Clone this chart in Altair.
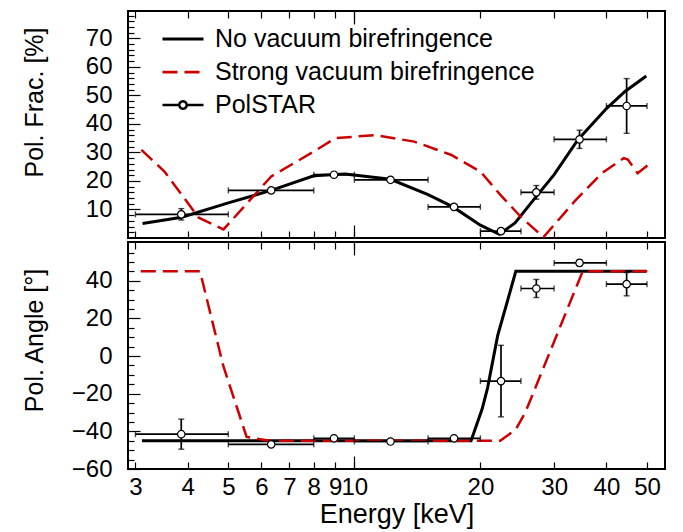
import altair as alt
import pandas as pd

# ------------------------------------------------------------------ data
series_names = ["No vacuum birefringence", "Strong vacuum birefringence", "PolSTAR"]
series_colors = ["black", "#cc0000", "black"]

# model curves : polarization fraction [%]
frac_none_E = [3.12, 3.87, 5.0, 6.33, 8.0, 9.5, 12.2, 15.0, 17.2, 20.0, 22.2, 24.2,
               27.0, 30.0, 34.2, 40.0, 44.3, 49.8]
frac_none_V = [5.1, 7.3, 12.3, 16.7, 21.8, 22.4, 20.6, 15.2, 10.9, 4.5, 1.3, 5.3,
               14.0, 22.2, 34.5, 45.4, 51.4, 56.8]
frac_strong_E = [3.1, 3.52, 4.25, 4.87, 6.33, 8.0, 9.0, 11.2, 13.9, 17.0, 20.0, 22.3,
                 25.1, 28.3, 33.6, 39.0, 44.0, 45.0, 47.5, 51.5]
frac_strong_V = [30.9, 23.3, 7.1, 3.0, 21.6, 30.3, 35.0, 36.1, 33.8, 29.2, 23.3, 15.2,
                 7.1, 0.3, 12.9, 22.7, 28.0, 27.5, 22.7, 26.8]

# model curves : polarization angle [deg]
angle_none_E = [3.11, 19.0, 20.2, 20.8, 22.0, 24.3, 49.8]
angle_none_V = [-45, -45, -28, -17, 11, 45, 45]
angle_strong_E = [3.09, 4.28, 4.86, 5.53, 6.29, 22.3, 24.3, 25.6, 35.1, 51.5]
angle_strong_V = [45, 45, -5, -43, -45, -45, -39, -30, 45, 45]

# PolSTAR simulated measurements
pol_E = [3.86, 6.33, 8.94, 12.2, 17.3, 22.4, 27.2, 34.5, 44.7]
pol_E_lo = [3, 5, 8, 10, 15, 20, 25, 30, 40]
pol_E_hi = [5, 8, 10, 15, 20, 25, 30, 40, 50]
pol_frac = [8.3, 16.7, 22.2, 20.4, 10.9, 2.4, 16.0, 34.6, 46.3]
pol_frac_err = [2.0, 0.8, 0.8, 0.8, 0.8, 0.8, 2.4, 3.2, 9.6]
pol_angle = [-41.5, -46.9, -43.7, -45.4, -43.7, -13.3, 35.9, 49.5, 38.2]
pol_angle_err = [8.0, 1.0, 1.0, 1.0, 1.0, 19.0, 4.8, 1.5, 6.2]

# axes
x_tick_vals = [3, 4, 5, 6, 7, 8, 9, 10, 20, 30, 40, 50]
x_long_tick = [10]
frac_major = [10, 20, 30, 40, 50, 60, 70]
frac_minor = [v for v in range(2, 80, 2) if v % 10 != 0]
angle_major = [-60, -40, -20, 0, 20, 40]
angle_minor = [v for v in range(-55, 61, 5) if v % 20 != 0]

# symbols for the legend (custom paths)
legend_shapes = [
    "M-1,0L1,0",
    "M-1,0L1,0",
    "M-1,0L-0.18,0M0.18,0L1,0M0.18,0A0.18,0.18,0,1,1,-0.18,0A0.18,0.18,0,1,1,0.18,0",
]
legend_dashes = [[1, 0], [15, 7], [1, 0]]
legend_widths = [3, 2.5, 1.4]

FONT = "Liberation Sans"
X_DOMAIN = [2.88, 55.2]
W, H = 537, 227


def curve_df(E, V):
    return pd.DataFrame({"E": E, "V": V})


def points_df(V, err):
    return pd.DataFrame({
        "E": pol_E, "Elo": pol_E_lo, "Ehi": pol_E_hi,
        "V": V, "Vlo": [v - e for v, e in zip(V, err)], "Vhi": [v + e for v, e in zip(V, err)],
    })


def panel(none_df, strong_df, pts, ydomain, ymajor, yminor, ytitle, title_y,
          bottom_labels, with_legend):
    xs = alt.Scale(type="log", domain=X_DOMAIN, nice=False)
    ys = alt.Scale(domain=ydomain, nice=False, zero=False)

    base_ax = dict(domain=False, grid=False, tickColor="black", tickWidth=1.2)

    # main x axis (bottom)
    xa = dict(base_ax, orient="bottom", values=x_tick_vals, tickSize=7, offset=-7)
    if bottom_labels:
        xa.update(labels=True, labelFontSize=24, labelPadding=6, labelOverlap=False,
                  labelFlush=False, title="Energy [keV]", titleFontSize=27,
                  titleY=60, titleBaseline="alphabetic")
    else:
        xa.update(labels=False, title=None)

    ya = dict(base_ax, orient="left", values=ymajor, tickSize=12, offset=-12,
              labelFontSize=24, labelPadding=16, title=ytitle, titleFontSize=25,
              titleX=-106, titleY=title_y, titleBaseline="middle")

    black = alt.Chart(none_df).mark_line(color="black", strokeWidth=3, clip=True).encode(
        x=alt.X("E:Q", scale=xs, axis=alt.Axis(**xa)),
        y=alt.Y("V:Q", scale=ys, axis=alt.Axis(**ya)),
    )
    red = alt.Chart(strong_df).mark_line(color="#cc0000", strokeWidth=2.5,
                                         strokeDash=[15, 7], clip=True).encode(
        x=alt.X("E:Q", scale=xs, axis=alt.Axis(**dict(base_ax, orient="bottom", values=x_long_tick,
                                                       tickSize=13, offset=-13, labels=False, title=None))),
        y=alt.Y("V:Q", scale=ys, axis=alt.Axis(**dict(base_ax, orient="left", values=yminor,
                                                       tickSize=6, offset=-6, labels=False, title=None))),
    )
    xerr = alt.Chart(pts).mark_rule(color="black", strokeWidth=1.7).encode(
        x=alt.X("Elo:Q", scale=xs, axis=alt.Axis(**dict(base_ax, orient="top", values=x_long_tick,
                                                         tickSize=13, offset=-13, labels=False, title=None))),
        x2="Ehi:Q",
        y=alt.Y("V:Q", scale=ys, axis=None),
    )
    yerr = alt.Chart(pts).mark_rule(color="black", strokeWidth=1.7).encode(
        x=alt.X("E:Q", scale=xs, axis=None),
        y=alt.Y("Vlo:Q", scale=ys, axis=None),
        y2="Vhi:Q",
    )
    cap_lo = alt.Chart(pts).mark_tick(orient="vertical", size=6, thickness=1.4, color="black").encode(
        x=alt.X("Elo:Q", scale=xs, axis=None), y=alt.Y("V:Q", scale=ys, axis=None))
    cap_hi = alt.Chart(pts).mark_tick(orient="vertical", size=6, thickness=1.4, color="black").encode(
        x=alt.X("Ehi:Q", scale=xs, axis=None), y=alt.Y("V:Q", scale=ys, axis=None))
    cap_ylo = alt.Chart(pts).mark_tick(orient="horizontal", size=6, thickness=1.4, color="black").encode(
        x=alt.X("E:Q", scale=xs, axis=None), y=alt.Y("Vlo:Q", scale=ys, axis=None))
    cap_yhi = alt.Chart(pts).mark_tick(orient="horizontal", size=6, thickness=1.4, color="black").encode(
        x=alt.X("E:Q", scale=xs, axis=None), y=alt.Y("Vhi:Q", scale=ys, axis=None))
    pts_mark = alt.Chart(pts).mark_point(shape="circle", filled=True, fill="white", stroke="black",
                                          strokeWidth=1.2, size=55, opacity=1).encode(
        x=alt.X("E:Q", scale=xs, axis=alt.Axis(**dict(base_ax, orient="top", values=x_tick_vals,
                                                       tickSize=7, offset=-7, labels=False, title=None))),
        y=alt.Y("V:Q", scale=ys, axis=None),
    )
    layers = [black, red, xerr, yerr, cap_lo, cap_hi, cap_ylo, cap_yhi, pts_mark]

    if with_legend:
        leg = dict(title=None, orient="none", legendX=33, legendY=16, padding=0,
                   symbolSize=1681, clipHeight=24, rowPadding=8, labelOffset=10,
                   labelFontSize=25, labelFont=FONT, labelColor="black", labelLimit=500,
                   symbolOpacity=1, symbolFillColor="white")
        ldf = pd.DataFrame({"series": series_names})
        # invisible carrier of the legend, kept well inside the plot area
        legend_layer = alt.Chart(ldf).mark_point(opacity=0, filled=False, size=1681).encode(
            x=alt.value(W / 2), y=alt.value(H / 2),
            color=alt.Color("series:N", scale=alt.Scale(domain=series_names, range=series_colors),
                            legend=alt.Legend(**leg)),
            shape=alt.Shape("series:N", scale=alt.Scale(domain=series_names, range=legend_shapes),
                            legend=alt.Legend(**leg)),
            strokeDash=alt.StrokeDash("series:N", scale=alt.Scale(domain=series_names, range=legend_dashes),
                                      legend=alt.Legend(**leg)),
            strokeWidth=alt.StrokeWidth("series:N", scale=alt.Scale(domain=series_names, range=legend_widths),
                                        legend=alt.Legend(**leg)),
        )
        layers.append(legend_layer)

    return alt.layer(*layers).resolve_axis(x="independent", y="independent").properties(width=W, height=H)


top = panel(curve_df(frac_none_E, frac_none_V), curve_df(frac_strong_E, frac_strong_V),
            points_df(pol_frac, pol_frac_err), [0, 79.6], frac_major, frac_minor,
            "Pol. Frac. [%]", 91, False, True)
bottom = panel(curve_df(angle_none_E, angle_none_V), curve_df(angle_strong_E, angle_strong_V),
               points_df(pol_angle, pol_angle_err), [-60, 60.6], angle_major, angle_minor,
               "Pol. Angle [°]", 98, True, False)

chart = (
    alt.vconcat(top, bottom, spacing=0)
    .resolve_scale(color="independent", shape="independent", strokeDash="independent",
                   strokeWidth="independent")
    .properties(padding={"left": 12, "top": 1, "right": 5, "bottom": 5}, background="white")
    .configure_view(stroke="black", strokeWidth=2)
    .configure_axis(labelFont=FONT, titleFont=FONT, labelColor="black", titleColor="black",
                    titleFontWeight="normal")
    .configure_legend(labelFont=FONT)
)

chart.save("out.html", embed_options={"renderer": "svg", "actions": False})
